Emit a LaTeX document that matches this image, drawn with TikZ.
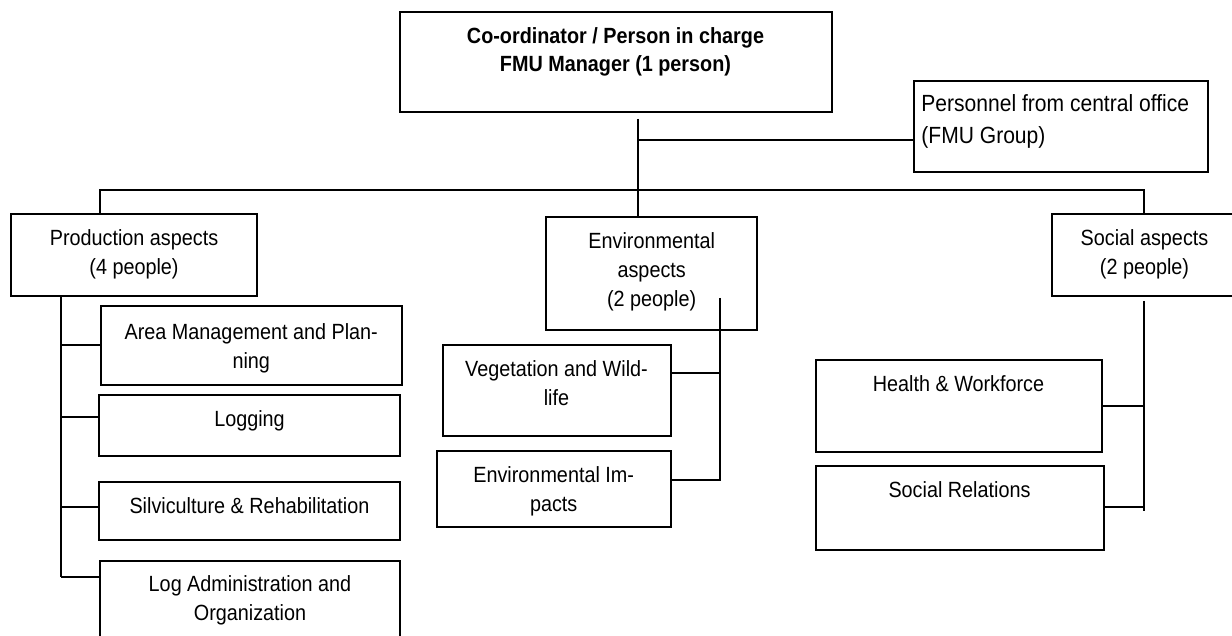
\documentclass[tikz,border=0pt]{standalone}
\usepackage{fontspec}
\setmainfont[FakeStretch=0.9]{Liberation Sans}
\usetikzlibrary{positioning}

\tikzset{
    unit/.style={draw, line width=1pt, rectangle, anchor=north west, inner sep=0pt},
    txt/.style={align=center, inner sep=0pt, font=\fontsize{11}{14.5}\selectfont},
    link/.style={line width=1pt},
}

\begin{document}
\begin{tikzpicture}[x=0.5pt, y=-0.5pt]
    \useasboundingbox (0,0) rectangle (1232,636);

    % Coordinator and central office
    \node[unit, minimum width=216pt, minimum height=50pt] (coord) at (398.5,11) {};
    \node[txt, font=\bfseries\fontsize{11}{14}\selectfont, below=8pt of coord.north] (coord-t)
        {Co-ordinator / Person in charge\\FMU Manager (1 person)};
    \node[unit, minimum width=147pt, minimum height=45.5pt] (office) at (913,80) {};
    \node[txt, align=left, font=\fontsize{11.7}{16}\selectfont,
        below right=7.3pt and 4pt of office.north west] (office-t)
        {Personnel from central office\\(FMU Group)};

    % Aspect boxes
    \node[unit, minimum width=123pt, minimum height=41pt] (prod) at (10,213) {};
    \node[txt, below=8pt of prod.north] (prod-t) {Production aspects\\(4 people)};
    \node[unit, minimum width=105.7pt, minimum height=56.5pt] (env) at (545,216) {};
    \node[txt, below=8pt of env.north] (env-t) {Environmental\\aspects\\(2 people)};
    \node[unit, minimum width=93pt, minimum height=41pt] (social) at (1050.5,213) {};
    \node[txt, below=8pt of social.north] (social-t) {Social aspects\\(2 people)};

    % Production units
    \node[unit, minimum width=150.25pt, minimum height=39pt] (area) at (100,305.5) {};
    \node[txt, below=9pt of area.north] (area-t) {Area Management and Plan-\\ning};
    \node[unit, minimum width=150.5pt, minimum height=30.5pt] (logg) at (98,394) {};
    \node[txt, below=8pt of logg.north] (logg-t) {Logging};
    \node[unit, minimum width=150.5pt, minimum height=29pt] (silv) at (98,481) {};
    \node[txt, below=8pt of silv.north] (silv-t) {Silviculture \& Rehabilitation};
    \node[unit, minimum width=150pt, minimum height=43pt] (logadm) at (99,559.5) {};
    \node[txt, below=8pt of logadm.north] (logadm-t) {Log Administration and\\Organization};

    % Environmental units
    \node[unit, minimum width=114pt, minimum height=45.5pt] (veg) at (441.5,344) {};
    \node[txt, below=8pt of veg.north] (veg-t) {Vegetation and Wild-\\life};
    \node[unit, minimum width=117pt, minimum height=38pt] (eimp) at (435.7,450) {};
    \node[txt, below=8pt of eimp.north] (eimp-t) {Environmental Im-\\pacts};

    % Social units
    \node[unit, minimum width=143pt, minimum height=45.8pt] (health) at (814.5,359) {};
    \node[txt, below=8pt of health.north] (health-t) {Health \& Workforce};
    \node[unit, minimum width=144pt, minimum height=42pt] (rel) at (814.5,465) {};
    \node[txt, below=8pt of rel.north] (rel-t) {Social Relations};

    % Lines from the top
    \coordinate (stem) at (637.5,119);
    \coordinate (tap) at (637.5,140);
    \coordinate (busL) at (100,190);
    \coordinate (busR) at (1144,190);
    \draw[link] (stem) -- (stem |- env.north);
    \draw[link] (tap) -- (tap -| office.west);
    \draw[link] (busL |- prod.north) -- (busL) -- (busR) -- (busR |- social.north);

    % Production branches
    \coordinate (pspine) at (60.5,577);
    \draw[link] (pspine |- prod.south) -- (pspine);
    \foreach \b/\y in {area/345, logg/417, silv/507, logadm/577} {
        \coordinate (j-\b) at (60.5,\y);
        \draw[link] (j-\b) -- (j-\b -| \b.west);
    }

    % Environmental branches
    \coordinate (espine) at (720,481);
    \draw[link] (720,298) -- (espine);
    \foreach \b/\y in {veg/373, eimp/480} {
        \coordinate (j-\b) at (720,\y);
        \draw[link] (j-\b) -- (j-\b -| \b.east);
    }

    % Social branches
    \coordinate (sspine) at (1144,511);
    \draw[link] (sspine |- social.south) ++(0,4) -- (sspine);
    \foreach \b/\y in {health/406, rel/507} {
        \coordinate (j-\b) at (1144,\y);
        \draw[link] (j-\b) -- (j-\b -| \b.east);
    }
\end{tikzpicture}
\end{document}
